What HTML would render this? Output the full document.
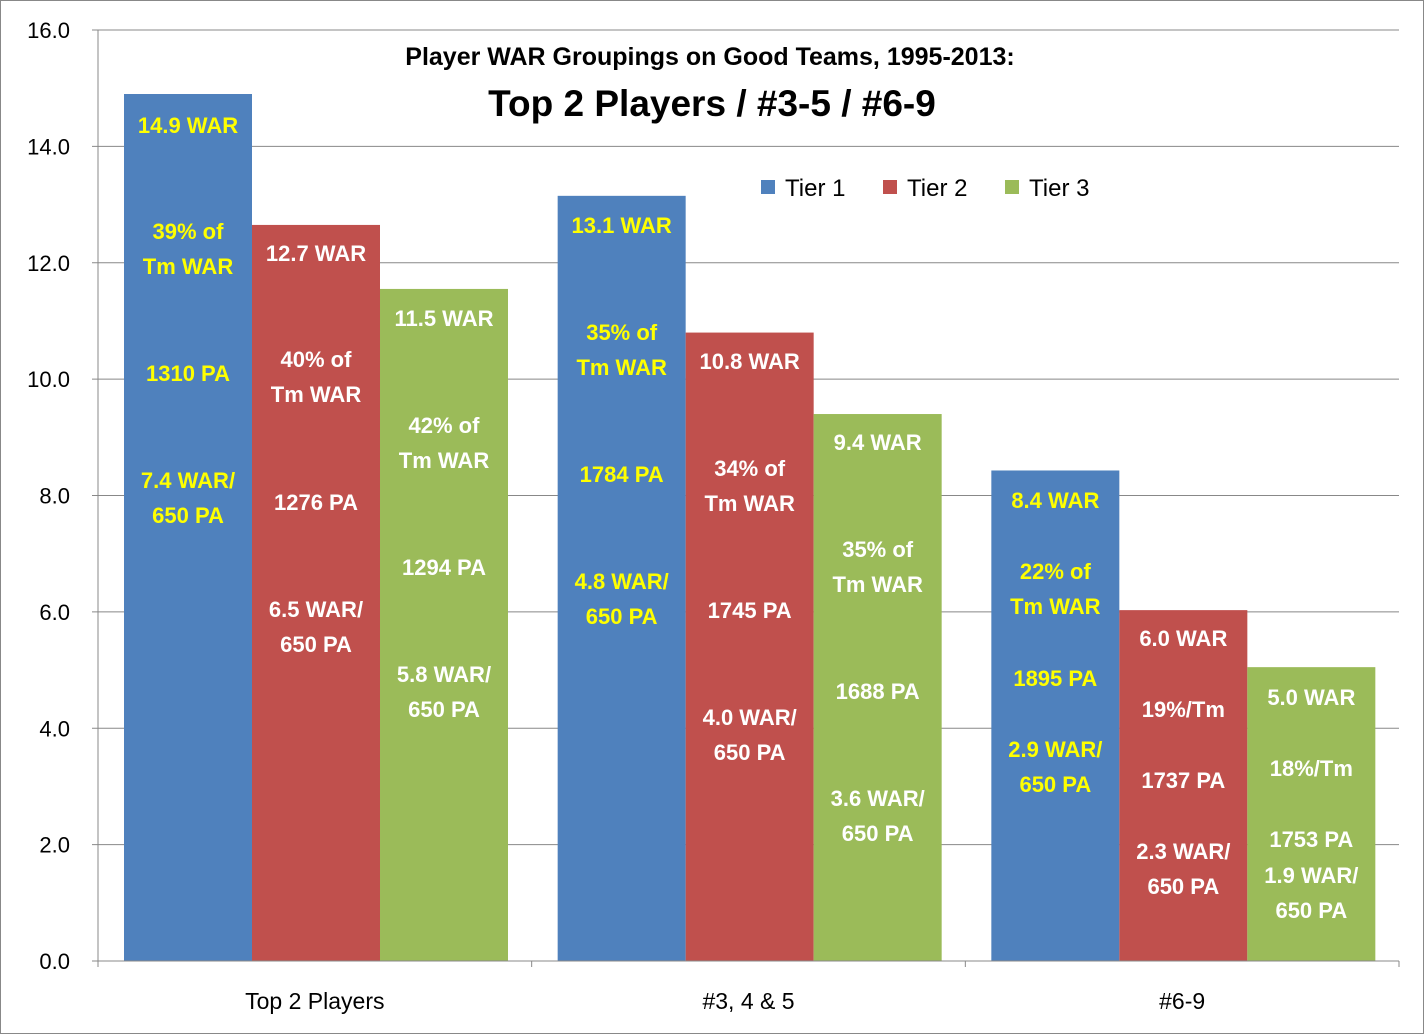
<!DOCTYPE html>
<html><head><meta charset="utf-8"><style>
body{margin:0;background:#fff}
svg{display:block;font-family:"Liberation Sans",sans-serif}
</style></head><body>
<svg id="c" width="1424" height="1034">
<rect x="0.5" y="0.5" width="1423" height="1033" fill="#fff" stroke="#888"/>
<text x="710" y="65" text-anchor="middle" font-size="25" font-weight="bold">Player WAR Groupings on Good Teams, 1995-2013:</text>
<text x="712" y="116" text-anchor="middle" font-size="37" font-weight="bold">Top 2 Players / #3-5 / #6-9</text>
</svg>
<script>
const categories=["Top 2 Players","#3, 4 & 5","#6-9"];
const seriesNames=["Tier 1","Tier 2","Tier 3"];
const tier1=[14.9,13.15,8.43];
const tier2=[12.65,10.8,6.03];
const tier3=[11.55,9.4,5.05];
const yTicks=[0,2,4,6,8,10,12,14,16];
const labels=[
[["14.9 WAR"],["39% of","Tm WAR"],["1310 PA"],["7.4 WAR/","650 PA"]],
[["12.7 WAR"],["40% of","Tm WAR"],["1276 PA"],["6.5 WAR/","650 PA"]],
[["11.5 WAR"],["42% of","Tm WAR"],["1294 PA"],["5.8 WAR/","650 PA"]],
[["13.1 WAR"],["35% of","Tm WAR"],["1784 PA"],["4.8 WAR/","650 PA"]],
[["10.8 WAR"],["34% of","Tm WAR"],["1745 PA"],["4.0 WAR/","650 PA"]],
[["9.4 WAR"],["35% of","Tm WAR"],["1688 PA"],["3.6 WAR/","650 PA"]],
[["8.4 WAR"],["22% of","Tm WAR"],["1895 PA"],["2.9 WAR/","650 PA"]],
[["6.0 WAR"],["19%/Tm"],["1737 PA"],["2.3 WAR/","650 PA"]],
[["5.0 WAR"],["18%/Tm"],["1753 PA"],["1.9 WAR/","650 PA"]]];
const labelY=[[125,231,373,480],[253,359,502,609],[318,425,567,674],[225,332,474,581],[361,468,610,717],[442,549,691,798],[500,571,678,749],[638,709,780,851],[697,768,839,875]];
const colors=["#4F81BD","#C0504D","#9BBB59"];
const NS="http://www.w3.org/2000/svg";
const svg=document.getElementById("c");
const X0=98,X1=1399,Y0=961,Y1=30,yMax=16;
const y=v=>Y0-(Y0-Y1)*v/yMax;
const gw=(X1-X0)/categories.length,bw=128,off=26;
function mk(t,a){const e=document.createElementNS(NS,t);for(const k in a)e.setAttribute(k,a[k]);svg.appendChild(e);return e;}
yTicks.forEach(t=>{
 if(t>0){const g=mk("line",{x1:X0,x2:X1,y1:y(t),y2:y(t),stroke:"#888","stroke-width":1});
 
 }
 const tk=mk("line",{x1:X0-6,x2:X0,y1:y(t),y2:y(t),stroke:"#888"});
 
 
 const l=mk("text",{x:70,y:y(t)+8,"text-anchor":"end","font-size":22});
 l.textContent=t.toFixed(1);
 
 
});
const ax=mk("line",{x1:X0,x2:X0,y1:Y1,y2:Y0,stroke:"#888"});


const series=[tier1,tier2,tier3];
categories.forEach((c,i)=>{
 series.forEach((s,j)=>{
  const bx=X0+i*gw+off+j*bw;
  const r=mk("rect",{x:bx,y:y(s[i]),width:bw,height:Y0-y(s[i]),fill:colors[j]});
  
  
  const k=i*3+j,fill=j==0?"#FFFF00":"#fff";
  labels[k].forEach((grp,g)=>{grp.forEach((line,n)=>{
   const t=mk("text",{x:bx+bw/2,y:labelY[k][g]+n*35+8,"text-anchor":"middle","font-size":22,"font-weight":"bold",fill:fill});
   t.textContent=line;
   
   
  });});
 });
 const cl=mk("text",{x:X0+i*gw+gw/2,y:1009,"text-anchor":"middle","font-size":23});
 cl.textContent=c;
 
 
});
for(let i=0;i<=categories.length;i++){const t=mk("line",{x1:X0+i*gw,x2:X0+i*gw,y1:Y0,y2:Y0+6,stroke:"#888"});
 
 }
const xa=mk("line",{x1:X0,x2:X1,y1:Y0,y2:Y0,stroke:"#888"});


const lx=[761,883,1005];
seriesNames.forEach((n,j)=>{
 const r=mk("rect",{x:lx[j],y:180,width:14,height:14,fill:colors[j]});
 
 
 const t=mk("text",{x:lx[j]+24,y:196,"font-size":24});
 t.textContent=n;
 
 
});
</script>
</body></html>
